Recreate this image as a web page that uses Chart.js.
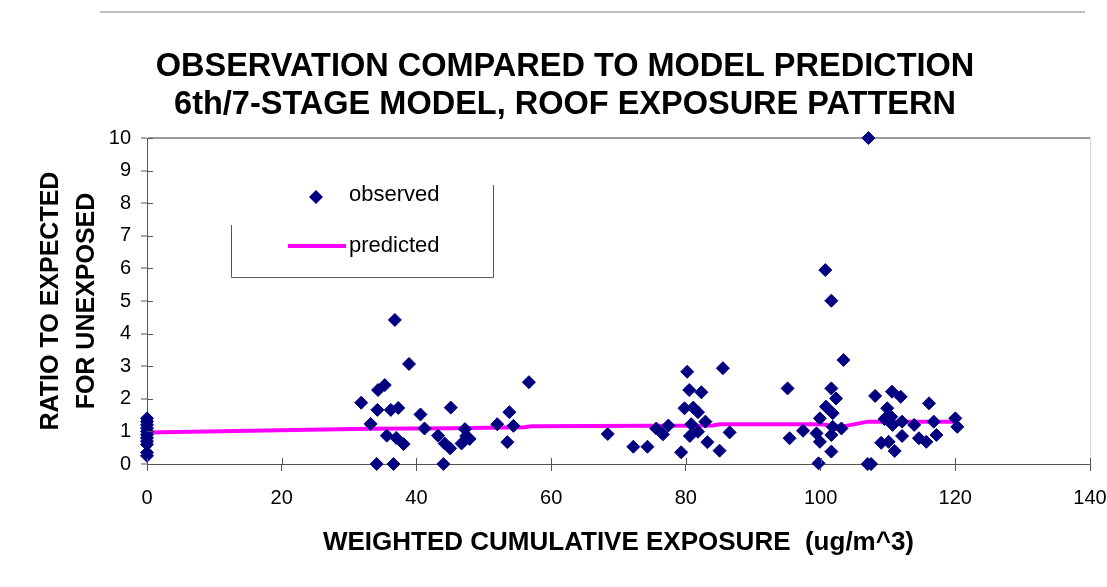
<!DOCTYPE html>
<html>
<head>
<meta charset="utf-8">
<script src="https://cdn.jsdelivr.net/npm/chart.js@4/dist/chart.umd.min.js"></script>
<style>
  html, body { margin: 0; padding: 0; background: #fff; }
  #wrap { position: relative; width: 1107px; height: 587px; }
  #topline { position: absolute; left: 100px; top: 11px; width: 985px; border-top: 2px solid #bdbdbd; }
</style>
</head>
<body>
<div id="wrap">
  <div id="topline"></div>
  <canvas id="chart" width="1107" height="587"></canvas>
</div>
<script>
// observed ratios (x = weighted cumulative exposure, y = ratio)
const obsX = [
  0, 0, 0, 0, 0, 0, 0, 0, 0, 0, 0,
  31.8, 33.2, 34.1, 34.2, 34.3, 35.3, 36.6, 36.8, 38.9, 36.2, 37.3, 35.6, 37.0, 38.1,
  40.6, 41.2, 44.0, 43.2, 44.2, 45.0, 45.1, 47.2, 46.7, 47.9, 47.4,
  52.0, 53.8, 54.4, 53.5, 56.7,
  68.4, 72.2, 74.3, 75.6, 76.6, 77.4, 79.3, 80.2, 80.5, 82.3, 79.8, 81.1, 81.8, 80.8,
  82.9, 80.6, 81.8, 83.2, 85.0, 86.5, 85.5,
  95.1, 95.4, 97.4, 107.1, 100.7, 101.6, 103.4, 101.6, 102.3, 100.8, 101.8, 99.9,
  101.8, 103.1, 99.4, 99.9, 101.6, 101.6, 99.7, 107.0, 107.5,
  108.1, 110.6, 111.9, 109.9, 109.5, 110.5, 112.1, 110.7, 113.9, 112.1, 109.0, 110.1,
  111.0, 114.6, 115.7, 117.2, 116.1, 116.8, 120.0, 120.3
];
const obsY = [
  1.40, 1.30, 1.20, 1.10, 1.00, 0.90, 0.80, 0.70, 0.60, 0.35, 0.25,
  1.88, 1.23, 0, 1.66, 2.27, 2.42, 0, 4.42, 3.07, 1.66, 1.72, 0.87, 0.80, 0.61,
  1.52, 1.09, 0, 0.87, 0.63, 0.48, 1.73, 1.07, 0.63, 0.77, 0.86,
  1.22, 1.59, 1.17, 0.67, 2.51,
  0.92, 0.53, 0.53, 1.09, 0.91, 1.18, 0.36, 2.83, 2.27, 2.20, 1.71, 1.73, 1.59, 1.22,
  1.30, 0.86, 0.99, 0.67, 0.41, 0.97, 2.94,
  2.32, 0.79, 1.02, 10.0, 5.95, 5.01, 3.19, 2.32, 2.01, 1.76, 1.56, 1.40,
  1.14, 1.09, 0.94, 0.68, 0.89, 0.38, 0.02, 0, 0,
  2.09, 2.22, 2.06, 1.71, 1.38, 1.45, 1.30, 1.20, 1.20, 0.86, 0.65, 0.68,
  0.40, 0.79, 0.68, 0.89, 1.86, 1.30, 1.40, 1.14
];

// model prediction
const predX = [0, 33, 45, 56, 57, 84, 85, 100, 103, 107, 120];
const predY = [0.97, 1.08, 1.10, 1.13, 1.16, 1.18, 1.22, 1.22, 1.14, 1.30, 1.30];

const xTicks = [0, 20, 40, 60, 80, 100, 120, 140];
const yTicks = [0, 1, 2, 3, 4, 5, 6, 7, 8, 9, 10];

const titleLines = ["OBSERVATION COMPARED TO MODEL PREDICTION", "6th/7-STAGE MODEL, ROOF EXPOSURE PATTERN"];
const xTitle = "WEIGHTED CUMULATIVE EXPOSURE  (ug/m^3)";
const yTitle = ["RATIO TO EXPECTED", "FOR UNEXPOSED"];
const legendLabels = ["observed", "predicted"];

const NAVY = "#000080";
const MAGENTA = "#ff00ff";
const AXIS = "#555555";
const FONT = "'Liberation Sans', Arial, sans-serif";

// petites marques de graduation à l'intérieur du cadre (croisées)
const innerTicks = {
  id: "innerTicks",
  afterDraw(chart) {
    const { ctx, chartArea, scales } = chart;
    ctx.save();
    ctx.strokeStyle = AXIS;
    ctx.lineWidth = 1;
    ctx.beginPath();
    yTicks.forEach(v => {
      const y = Math.round(scales.y.getPixelForValue(v)) + 0.5;
      ctx.moveTo(chartArea.left, y);
      ctx.lineTo(chartArea.left + 6, y);
    });
    xTicks.forEach(v => {
      const x = Math.round(scales.x.getPixelForValue(v)) + 0.5;
      ctx.moveTo(x, chartArea.bottom);
      ctx.lineTo(x, chartArea.bottom - 6);
    });
    ctx.stroke();
    ctx.restore();
  }
};

// légende dessinée dans la zone du graphique
const boxLegend = {
  id: "boxLegend",
  afterDraw(chart) {
    const { ctx, chartArea } = chart;
    const l = chartArea.left + 84, r = chartArea.left + 346;
    const t = chartArea.top, b = chartArea.top + 139;
    ctx.save();
    ctx.strokeStyle = AXIS;
    ctx.lineWidth = 1;
    ctx.beginPath();
    ctx.moveTo(l + 0.5, t + 87);
    ctx.lineTo(l + 0.5, b + 0.5);
    ctx.lineTo(r + 0.5, b + 0.5);
    ctx.lineTo(r + 0.5, t + 47);
    ctx.stroke();

    // observed
    const dx = chartArea.left + 169, dy = chartArea.top + 59;
    ctx.fillStyle = NAVY;
    ctx.beginPath();
    ctx.moveTo(dx - 7, dy);
    ctx.lineTo(dx, dy - 7);
    ctx.lineTo(dx + 7, dy);
    ctx.lineTo(dx, dy + 7);
    ctx.closePath();
    ctx.fill();

    // predicted
    const ly = chartArea.top + 108;
    ctx.strokeStyle = MAGENTA;
    ctx.lineWidth = 4;
    ctx.beginPath();
    ctx.moveTo(chartArea.left + 141, ly);
    ctx.lineTo(chartArea.left + 199, ly);
    ctx.stroke();

    ctx.fillStyle = "#000";
    ctx.font = "22px " + FONT;
    ctx.textBaseline = "middle";
    ctx.textAlign = "left";
    ctx.fillText(legendLabels[0], chartArea.left + 202, chartArea.top + 57);
    ctx.fillText(legendLabels[1], chartArea.left + 202, ly);
    ctx.restore();
  }
};

const observedPts = obsX.map((x, i) => ({ x: x, y: obsY[i] }));
const predictedPts = predX.map((x, i) => ({ x: x, y: predY[i] }));

new Chart(document.getElementById("chart").getContext("2d"), {
  type: "scatter",
  data: {
    datasets: [
      {
        label: legendLabels[1],
        data: predictedPts,
        showLine: true,
        borderColor: MAGENTA,
        borderWidth: 4,
        pointRadius: 0,
        tension: 0,
        order: 2
      },
      {
        label: legendLabels[0],
        data: observedPts,
        pointStyle: "rectRot",
        pointRadius: 6.5,
        backgroundColor: NAVY,
        borderColor: NAVY,
        borderWidth: 1,
        order: 1
      }
    ]
  },
  options: {
    responsive: false,
    animation: false,
    clip: false,
    layout: { padding: { left: 23, right: 0, top: 0, bottom: 0 } },
    plugins: {
      legend: { display: false },
      tooltip: { enabled: false },
      title: {
        display: true,
        text: titleLines,
        color: "#000",
        font: { family: FONT, size: 32.5, weight: "bold", lineHeight: 1.17 },
        padding: { top: 48, bottom: 14 }
      }
    },
    scales: {
      x: {
        type: "linear",
        min: 0,
        max: 140,
        afterFit(scale) {
          scale.height = 123;
          scale.paddingRight = 17; // le cadre s'arrête à 140
        },
        afterBuildTicks(scale) { scale.ticks = xTicks.map(v => ({ value: v })); },
        border: { display: true, color: AXIS, width: 1 },
        grid: {
          drawOnChartArea: true,
          color: ctx => (ctx.tick && ctx.tick.value === 140 ? "#d8d8d8" : "rgba(0,0,0,0)"),
          tickColor: AXIS,
          tickLength: 7
        },
        ticks: {
          color: "#000",
          font: { family: FONT, size: 20 },
          padding: 15,
          maxRotation: 0,
          autoSkip: false
        },
        title: {
          display: true,
          text: xTitle,
          color: "#000",
          font: { family: FONT, size: 26, weight: "bold", lineHeight: 1.2 },
          padding: { top: 4, bottom: 29 }
        }
      },
      y: {
        type: "linear",
        min: 0,
        max: 10,
        afterFit(scale) { scale.width = 124; },
        afterBuildTicks(scale) { scale.ticks = yTicks.map(v => ({ value: v })); },
        border: { display: true, color: AXIS, width: 1 },
        grid: {
          drawOnChartArea: true,
          color: ctx => (ctx.tick && ctx.tick.value === 10 ? "#9a9a9a" : "rgba(0,0,0,0)"),
          lineWidth: 2,
          tickColor: AXIS,
          tickWidth: 1,
          tickLength: 6
        },
        ticks: {
          color: "#000",
          font: { family: FONT, size: 20 },
          padding: 10,
          autoSkip: false
        },
        title: {
          display: true,
          text: yTitle,
          color: "#000",
          font: { family: FONT, size: 25, weight: "bold", lineHeight: 1.45 },
          padding: { top: 10, bottom: 0 }
        }
      }
    }
  },
  plugins: [innerTicks, boxLegend]
});
</script>
</body>
</html>
